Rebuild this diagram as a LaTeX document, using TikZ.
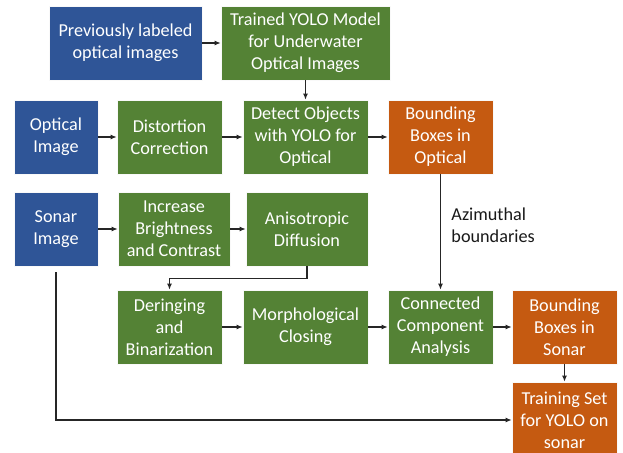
\documentclass[tikz,border=0pt]{standalone}
\usepackage{fontspec}
\setmainfont{Carlito}
\usetikzlibrary{arrows.meta}
\definecolor{boxblue}{HTML}{2F5597}
\definecolor{boxgreen}{HTML}{548235}
\definecolor{boxorange}{HTML}{C55A11}
\begin{document}
\begin{tikzpicture}[x=1pt,y=-1pt,
  box/.style={draw=white!75!black!10, line width=0.6pt, text=white, align=center,
    inner sep=0pt, minimum height=74pt,
    font=\fontsize{18.2}{22}\selectfont},
  bluebox/.style={box, fill=boxblue},
  greenbox/.style={box, fill=boxgreen},
  orangebox/.style={box, fill=boxorange},
  arr/.style={-{Latex[length=6pt,width=5pt]}, line width=1.3pt, black!85}]
\useasboundingbox (0,0) rectangle (623,452);
\fill[white] (0,0) rectangle (623,452);

% optical branch
\node[bluebox, minimum width=153pt] (prev) at (125.5,43) {Previously labeled\\optical images};
\node[greenbox, minimum width=169pt] (yolo) at (305.5,43) {Trained YOLO Model\\for Underwater\\Optical Images};
\node[bluebox, minimum width=84pt] (opt) at (56,137) {Optical\\Image};
\node[greenbox, minimum width=105pt] (dist) at (169.5,137) {Distortion\\Correction};
\node[greenbox, minimum width=125pt] (detect) at (305.5,137) {Detect Objects\\with YOLO for\\Optical};
\node[orangebox, minimum width=105pt] (bbo) at (440.5,137) {Bounding\\Boxes in\\Optical};

% sonar branch
\node[bluebox, minimum width=84pt] (sonar) at (56,229) {Sonar\\Image};
\node[greenbox, minimum width=112pt] (incr) at (174,229) {Increase\\Brightness\\and Contrast};
\node[greenbox, minimum width=122pt] (aniso) at (307,229) {Anisotropic\\Diffusion};
\node[greenbox, minimum width=105pt] (dering) at (169.5,327) {Deringing\\and\\Binarization};
\node[greenbox, minimum width=125pt] (morph) at (305.5,327) {Morphological\\Closing};
\node[greenbox, minimum width=105pt] (cca) at (440.5,327) {Connected\\Component\\Analysis};
\node[orangebox, minimum width=105pt] (bbs) at (564.5,327) {Bounding\\Boxes in\\Sonar};
\node[orangebox, minimum width=105pt, minimum height=76pt] (train) at (564.5,420) {Training Set\\for YOLO on\\sonar};

% connectors
\draw[arr] (prev) -- (yolo);
\draw[arr] (yolo) -- (detect);
\draw[arr] (opt) -- (dist);
\draw[arr] (dist) -- (detect);
\draw[arr] (detect) -- (bbo);
\draw[arr] (bbo) -- node[right=7pt, align=left, text=black!90, font=\fontsize{18.2}{22}\selectfont, pos=0.44] (azi) {Azimuthal\\boundaries} (cca);
\draw[arr] (sonar) -- (incr);
\draw[arr] (incr) -- (aniso);
\draw[arr] (aniso.south) -- ++(0,12) -| (dering.north);
\draw[arr] (dering) -- (morph);
\draw[arr] (morph) -- (cca);
\draw[arr] (cca) -- (bbs);
\draw[arr] (bbs) -- (train);
\draw[arr, shorten <=6pt] (sonar.south) |- (train.west);
\end{tikzpicture}
\end{document}
